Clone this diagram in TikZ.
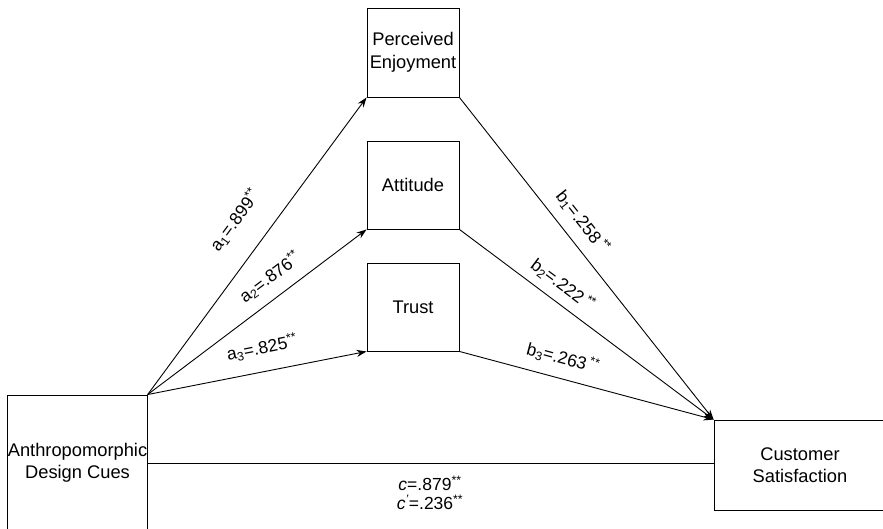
\documentclass[tikz,border=0pt]{standalone}
\usepackage{fontspec}
\setmainfont{Liberation Sans}
\usetikzlibrary{arrows.meta}
\begin{document}
\begin{tikzpicture}[x=1pt,y=-1pt,
  box/.style={draw, line width=0.9pt, inner sep=0pt, align=center, font=\fontsize{18.3}{22.5}\selectfont},
  lbl/.style={inner sep=0pt, font=\fontsize{17.5}{21}\selectfont},
  conn/.style={line width=0.9pt},
  arr/.style={conn, -{Stealth[length=10pt,width=7pt]}}]
\useasboundingbox (0,0) rectangle (883,528);
\clip (0,0) rectangle (883,528);
\fill[white] (0,0) rectangle (883,528);
% nodes
\node[box, minimum width=139pt, minimum height=136pt] (anthro) at (77.5,463) {Anthropomorphic\\Design Cues};
\node[box, minimum width=92pt, minimum height=89pt] (pe) at (413,52.5) {Perceived\\Enjoyment};
\node[box, minimum width=92pt, minimum height=88pt] (att) at (413,185) {Attitude};
\node[box, minimum width=92pt, minimum height=88pt] (trust) at (413,307) {Trust};
\node[box, minimum width=172pt, minimum height=90pt] (cs) at (800,465) {Customer\\Satisfaction};
% connectors
\draw[arr] (anthro.north east) -- (pe.south west);
\draw[arr] (anthro.north east) -- (att.south west);
\draw[arr] (anthro.north east) -- (trust.south west);
\draw[arr] (pe.south east) -- (cs.north west);
\draw[arr] (att.south east) -- (cs.north west);
\draw[arr] (trust.south east) -- (cs.north west);
\draw[conn] (anthro.east) -- (anthro.east -| cs.west);
% labels
\node[lbl, rotate=53.6] (la1) at (235,220) {a\textsubscript{1}=.899\textsuperscript{**}};
\node[lbl, rotate=37] (la2) at (270,277) {a\textsubscript{2}=.876\textsuperscript{**}};
\node[lbl, rotate=11.3] (la3) at (262,348) {a\textsubscript{3}=.825\textsuperscript{**}};
\node[lbl, rotate=-51.7] (lb1) at (583,222) {b\textsubscript{1}=.258\,\textsuperscript{**}};
\node[lbl, rotate=-36.8] (lb2) at (563,285) {b\textsubscript{2}=.222\,\textsuperscript{**}};
\node[lbl, rotate=-15.1] (lb3) at (563,358) {b\textsubscript{3}=.263\,\textsuperscript{**}};
\node[lbl] (lc) at (430,483) {\textit{c}=.879\textsuperscript{**}};
\node[lbl] (lcp) at (430,502) {\textit{c}\textsuperscript{\textit{'}}=.236\textsuperscript{**}};
\end{tikzpicture}
\end{document}
